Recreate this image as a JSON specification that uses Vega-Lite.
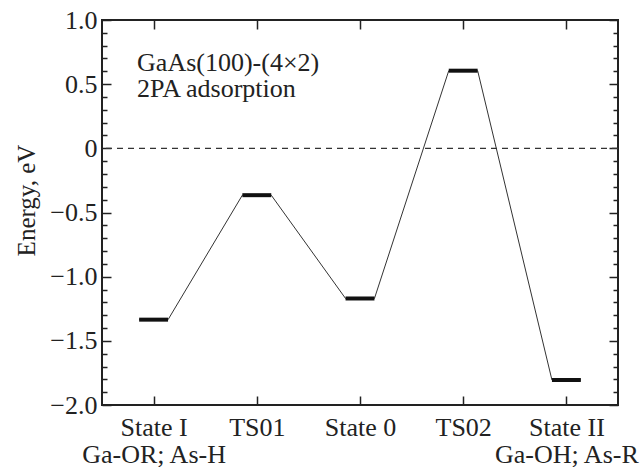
{
  "$schema": "https://vega.github.io/schema/vega-lite/v6.json",
  "width": 516,
  "height": 385,
  "autosize": "none",
  "padding": {"left": 102, "top": 20, "right": 23, "bottom": 62},
  "background": "white",
  "config": {
    "view": {"stroke": "#222", "strokeWidth": 2},
    "font": "Liberation Serif",
    "text": {"font": "Liberation Serif", "fontWeight": "normal"},
    "axis": {
      "domain": false,
      "grid": false,
      "labelFont": "Liberation Serif",
      "labelFontSize": 26,
      "labelColor": "#222",
      "tickColor": "#222",
      "tickWidth": 1.5,
      "titleFont": "Liberation Serif",
      "titleFontSize": 25,
      "titleFontWeight": "normal",
      "titleColor": "#222",
      "labelFlush": false,
      "labelOverlap": false,
      "labelBound": false
    }
  },
  "datasets": {
    "levels": [
      {"state": "State I", "pos": 1, "energy": -1.335},
      {"state": "TS01", "pos": 2, "energy": -0.365},
      {"state": "State 0", "pos": 3, "energy": -1.17},
      {"state": "TS02", "pos": 4, "energy": 0.605},
      {"state": "State II", "pos": 5, "energy": -1.805}
    ],
    "note": [
      {"label": "GaAs(100)-(4×2)", "row": 1},
      {"label": "2PA adsorption", "row": 2}
    ],
    "zero": [
      {"energy": 0}
    ]
  },
  "resolve": {"axis": {"x": "independent", "y": "independent"}},
  "layer": [
    {
      "data": {"name": "zero"},
      "mark": {"type": "rule", "color": "#333", "strokeWidth": 1.2, "strokeDash": [6, 5]},
      "encoding": {
        "y": {"field": "energy", "type": "quantitative", "scale": {"domain": [-2, 1], "nice": false, "zero": false}, "axis": null}
      }
    },
    {
      "data": {"name": "levels"},
      "transform": [
        {"calculate": "datum.pos - 0.14", "as": "x0"},
        {"calculate": "datum.pos + 0.14", "as": "x1"},
        {"fold": ["x0", "x1"], "as": ["end", "xv"]}
      ],
      "mark": {"type": "line", "color": "#333", "strokeWidth": 1},
      "encoding": {
        "x": {
          "field": "xv", "type": "quantitative",
          "scale": {"domain": [0.5, 5.5], "nice": false, "zero": false},
          "axis": {
            "orient": "bottom",
            "title": null,
            "values": [1, 2, 3, 4, 5],
            "tickSize": -9,
            "labelPadding": 18,
            "labelBaseline": "top",
            "labelLineHeight": 27,
            "labelExpr": "datum.value == 1 ? ['State I', 'Ga-OR; As-H'] : datum.value == 2 ? 'TS01' : datum.value == 3 ? 'State 0' : datum.value == 4 ? 'TS02' : ['State II', 'Ga-OH; As-R']"
          }
        },
        "y": {
          "field": "energy", "type": "quantitative",
          "scale": {"domain": [-2, 1], "nice": false, "zero": false},
          "axis": {
            "orient": "left",
            "title": "Energy, eV",
            "titleAngle": -90,
            "titleX": -68,
            "titleY": 180,
            "titleAlign": "center",
            "titleBaseline": "alphabetic",
            "values": [-2, -1.9, -1.8, -1.7, -1.6, -1.5, -1.4, -1.3, -1.2, -1.1, -1, -0.9, -0.8, -0.7, -0.6, -0.5, -0.4, -0.3, -0.2, -0.1, 0, 0.1, 0.2, 0.3, 0.4, 0.5, 0.6, 0.7, 0.8, 0.9, 1],
            "tickSize": {"condition": {"test": "abs(datum.value * 2 - round(datum.value * 2)) < 0.01", "value": -9}, "value": -5},
            "labelPadding": 14,
            "labelExpr": "abs(datum.value * 2 - round(datum.value * 2)) < 0.01 ? (datum.value == 0 ? '0' : replace(format(datum.value, '.1f'), '-', '–')) : ''"
          }
        }
      }
    },
    {
      "data": {"name": "levels"},
      "transform": [
        {"calculate": "datum.pos - 0.14", "as": "x0"},
        {"calculate": "datum.pos + 0.14", "as": "x1"}
      ],
      "mark": {"type": "rule", "color": "#111", "strokeWidth": 4},
      "encoding": {
        "x": {
          "field": "x0", "type": "quantitative",
          "axis": {
            "orient": "top",
            "title": null,
            "values": [1, 2, 3, 4, 5],
            "tickSize": -9,
            "labels": false
          }
        },
        "x2": {"field": "x1"},
        "y": {
          "field": "energy", "type": "quantitative",
          "axis": {
            "orient": "right",
            "title": null,
            "values": [-2, -1.9, -1.8, -1.7, -1.6, -1.5, -1.4, -1.3, -1.2, -1.1, -1, -0.9, -0.8, -0.7, -0.6, -0.5, -0.4, -0.3, -0.2, -0.1, 0, 0.1, 0.2, 0.3, 0.4, 0.5, 0.6, 0.7, 0.8, 0.9, 1],
            "tickSize": {"condition": {"test": "abs(datum.value * 2 - round(datum.value * 2)) < 0.01", "value": -9}, "value": -5},
            "labels": false
          }
        }
      }
    },
    {
      "data": {"name": "note"},
      "transform": [{"filter": "datum.row == 1"}],
      "mark": {"type": "text", "align": "left", "baseline": "alphabetic", "fontSize": 26, "font": "Liberation Serif", "fontWeight": "normal", "color": "#222"},
      "encoding": {
        "text": {"field": "label"},
        "x": {"datum": 0.84, "type": "quantitative", "axis": null},
        "y": {"datum": 0.6, "type": "quantitative", "axis": null}
      }
    },
    {
      "data": {"name": "note"},
      "transform": [{"filter": "datum.row == 2"}],
      "mark": {"type": "text", "align": "left", "baseline": "alphabetic", "fontSize": 26, "font": "Liberation Serif", "fontWeight": "normal", "color": "#222"},
      "encoding": {
        "text": {"field": "label"},
        "x": {"datum": 0.84, "type": "quantitative", "axis": null},
        "y": {"datum": 0.4, "type": "quantitative", "axis": null}
      }
    }
  ]
}
